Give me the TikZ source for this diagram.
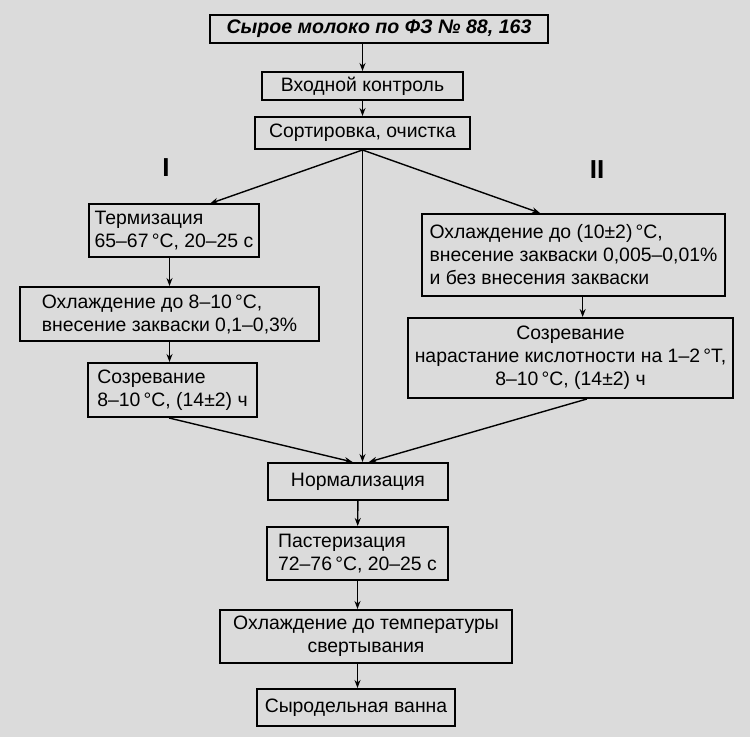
\documentclass[tikz,border=0pt]{standalone}
\usepackage{fontspec}
\setmainfont{Liberation Sans}
\usetikzlibrary{arrows.meta, calc, positioning}

\tikzset{
  stage/.style={draw, rectangle, line width=1pt, inner xsep=1pt, inner ysep=0pt, align=left,
    font=\fontsize{9.7}{11.5}\selectfont},
  flow/.style={line width=0.7pt, -{Stealth[length=4pt,width=3pt]}},
  branch/.style={font=\bfseries\fontsize{13}{13}\selectfont}
}

\begin{document}
\begin{tikzpicture}[x=0.5pt, y=-0.5pt]
  \fill[black!14] (0,0) rectangle (750,737);
  \useasboundingbox (0,0) rectangle (750,737);
  % main column
  \node[stage, minimum width=169pt, minimum height=14pt, font=\bfseries\itshape\fontsize{9.8}{11}\selectfont] (raw) at (379,29) {Сырое молоко по ФЗ № 88, 163};
  \node[stage, minimum width=100.5pt, minimum height=14pt] (inspect) at (362.5,86) {Входной контроль};
  \node[stage, minimum width=107.5pt, minimum height=16pt] (sort) at (362.5,133) {Сортировка, очистка};
  % branch I
  \node[branch] (one) at (166,168) {I};
  \node[stage, minimum width=85pt, minimum height=26.5pt] (therm) at (174,231) {Термизация\\65–67\,°C, 20–25 с};
  \node[stage, minimum width=149.5pt, minimum height=27pt] (coolA) at (169.5,314) {Охлаждение до 8–10\,°C,\\внесение закваски 0,1–0,3\%};
  \node[stage, minimum width=84.5pt, minimum height=27pt] (ripeA) at (172.5,390) {Созревание\\8–10\,°C, (14±2) ч};
  % branch II
  \node[branch] (two) at (597,170) {II};
  \node[stage, minimum width=151.5pt, minimum height=41pt] (coolB) at (573.5,255) {Охлаждение до (10±2)\,°C,\\внесение закваски 0,005–0,01\%\\и без внесения закваски};
  \node[stage, align=center, minimum width=162.5pt, minimum height=40pt] (ripeB) at (570.5,358) {Созревание\\нарастание кислотности на 1–2\,°Т,\\8–10\,°C, (14±2) ч};
  % after the branches
  \node[stage, minimum width=90pt, minimum height=18.5pt] (norm) at (358,481.5) {Нормализация};
  \node[stage, minimum width=90.5pt, minimum height=26.5pt] (past) at (357.5,553.5) {Пастеризация\\72–76\,°C, 20–25 с};
  \node[stage, align=center, minimum width=146pt, minimum height=26.5pt] (coolC) at (366,636.5) {Охлаждение до температуры\\свертывания};
  \node[stage, minimum width=99pt, minimum height=18.5pt] (bath) at (356,707.5) {Сыродельная ванна};

  \coordinate (bdrop) at ($(coolB.south west)!0.53!(coolB.south east)$);

  \draw[flow] (raw.south -| inspect.north) -- (inspect.north);
  \draw[flow] (inspect) -- (sort);
  \draw[flow] (sort.south) -- ($(therm.north west)!0.71!(therm.north east)$);
  \draw[flow] (sort.south) -- ($(coolB.north west)!0.39!(coolB.north east)$);
  \draw[flow] (sort.south) -- (sort.south |- norm.north);
  \draw[flow] (coolA.north |- therm.south) -- (coolA.north);
  \draw[flow] (coolA.south) -- (coolA.south |- ripeA.north);
  \draw[flow] (bdrop) -- (bdrop |- ripeB.north);
  \draw[flow] ($(ripeA.south west)!0.48!(ripeA.south east)$) -- ($(norm.north west)!0.47!(norm.north east)$);
  \draw[flow] ($(ripeB.south west)!0.55!(ripeB.south east)$) -- ($(norm.north west)!0.56!(norm.north east)$);
  \draw[flow] (norm) -- (past);
  \draw[flow] (past.south) -- (past.south |- coolC.north);
  \draw[flow] (past.south |- coolC.south) -- (past.south |- bath.north);
\end{tikzpicture}
\end{document}
